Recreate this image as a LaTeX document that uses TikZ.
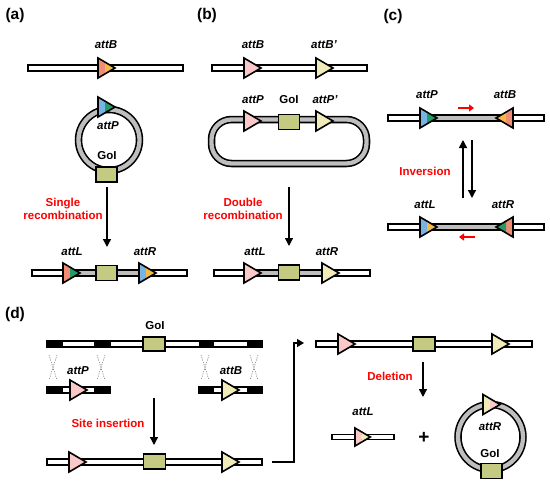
\documentclass[tikz,border=0pt]{standalone}
\usepackage{fontspec}
\setmainfont{Liberation Sans}
\usetikzlibrary{arrows.meta}
\definecolor{salm}{RGB}{240,140,115}
\definecolor{orng}{RGB}{245,185,70}
\definecolor{blu}{RGB}{120,180,225}
\definecolor{grn}{RGB}{35,155,105}
\definecolor{pnk}{RGB}{250,200,200}
\definecolor{lyel}{RGB}{240,235,185}
\definecolor{goi}{RGB}{196,202,130}
\definecolor{ringc}{RGB}{190,190,190}
\definecolor{redtxt}{RGB}{255,0,0}
\tikzset{
 pics/att/.style 2 args={code={
  \fill[#1] (0,-10) -- (0,10) -- (7,5.88) -- (7,-5.88) -- cycle;
  \fill[#2] (7,-5.88) -- (7,5.88) -- (17,0) -- cycle;
  \draw[line width=1.6pt, line join=miter] (0,-10) -- (0,10) -- (17,0) -- cycle;
 }}
}
\begin{document}
\begin{tikzpicture}[x=1pt,y=-1pt,
 lbl/.style={font=\fontsize{11.5}{13}\selectfont\bfseries\itshape, inner sep=0},
 txt/.style={font=\fontsize{11.5}{13}\selectfont\bfseries, inner sep=0},
 rtxt/.style={font=\fontsize{11.5}{13.5}\selectfont\bfseries, text=redtxt, align=center, inner sep=0},
 ptitle/.style={font=\fontsize{15.5}{17}\selectfont\bfseries, inner sep=0},
 outl/.style={line width=1.6pt, draw=black},
 barw/.style={outl, fill=white},
 barg/.style={outl, fill=ringc},
 goibox/.style={outl, fill=goi, minimum width=21pt, minimum height=15pt, inner sep=0},
 proc/.style={line width=1.4pt, -{Triangle[length=8pt,width=8pt]}},
 redarr/.style={line width=2.2pt, redtxt, -{Triangle[length=5pt,width=7pt]}},
 cross/.style={gray, line width=0.6pt, dash pattern=on 1.2pt off 1.2pt},
 ringo/.style={line width=7.5pt, black},
 ringi/.style={line width=4.3pt, ringc}
]
\useasboundingbox (0,0) rectangle (550,483);

% ================= (a)
\node[ptitle] (ta) at (15,15) {(a)};
\draw[barw] (28,65) rectangle (183,71);
\pic at (98,68) {att={salm}{orng}};
\node[lbl] (la1) at (106,45) {attB};
\draw[ringo] (109,140) circle (30.5pt);
\draw[ringi] (109,140) circle (30.5pt);
\pic at (98,107) {att={blu}{grn}};
\node[lbl] (la2) at (108,126) {attP};
\node[txt] (la3) at (107,156) {GoI};
\node[goibox] (ga1) at (106.5,174.5) {};
\coordinate (a1s) at (107,187);
\coordinate (a1e) at (107,247);
\draw[proc] (a1s) -- (a1e);
\node[rtxt] (ra) at (63,209) {Single\\recombination};
\draw[barw] (32,270) rectangle (187,276);
\draw[barg] (70,270) rectangle (145,276);
\pic at (63,273) {att={salm}{grn}};
\pic at (139,273) {att={blu}{orng}};
\node[goibox] (ga2) at (106.5,273) {};
\node[lbl] (la4) at (72,252) {attL};
\node[lbl] (la5) at (145,252) {attR};

% ================= (b)
\node[ptitle] (tb) at (207,15) {(b)};
\draw[barw] (212,65) rectangle (367,71);
\pic at (244,68) {att={pnk}{pnk}};
\pic at (316,68) {att={lyel}{lyel}};
\node[lbl] (lb1) at (253,45) {attB};
\node[lbl] (lb2) at (324,45) {attB'};
\draw[ringo, rounded corners=20pt] (211.5,119.5) rectangle (366.5,163.5);
\draw[ringi, rounded corners=20pt] (211.5,119.5) rectangle (366.5,163.5);
\pic at (244,121) {att={pnk}{pnk}};
\pic at (316,121) {att={lyel}{lyel}};
\node[goibox] (gb1) at (289,122) {};
\node[lbl] (lb3) at (253,100) {attP};
\node[txt] (lb4) at (289,100) {GoI};
\node[lbl] (lb5) at (325,100) {attP'};
\coordinate (b1s) at (289,187);
\coordinate (b1e) at (289,246);
\draw[proc] (b1s) -- (b1e);
\node[rtxt] (rb) at (243,209) {Double\\recombination};
\draw[barw] (214,270) rectangle (370,276);
\draw[barg] (255,270) rectangle (330,276);
\pic at (244,273) {att={pnk}{pnk}};
\pic at (322,273) {att={lyel}{lyel}};
\node[goibox] (gb2) at (289,272.5) {};
\node[lbl] (lb6) at (255,252) {attL};
\node[lbl] (lb7) at (327,252) {attR};

% ================= (c)
\node[ptitle] (tc) at (393,16) {(c)};
\draw[barw] (388,115) rectangle (544,121);
\draw[barg] (430,115) rectangle (505,121);
\pic at (420,118) {att={blu}{grn}};
\pic[xscale=-1] at (513,118) {att={salm}{orng}};
\node[lbl] (lc1) at (427,95) {attP};
\node[lbl] (lc2) at (505,95) {attB};
\coordinate (rc1s) at (458,108);
\coordinate (rc1e) at (474,108);
\draw[redarr] (rc1s) -- (rc1e);
\coordinate (u1) at (463,198);
\coordinate (u2) at (463,140);
\draw[proc] (u1) -- (u2);
\coordinate (d1) at (472,140);
\coordinate (d2) at (472,198);
\draw[proc] (d1) -- (d2);
\node[rtxt] (rc) at (425,171) {Inversion};
\draw[barw] (388,224) rectangle (544,230);
\draw[barg] (430,224) rectangle (505,230);
\pic at (420,227) {att={blu}{orng}};
\pic[xscale=-1] at (513,227) {att={salm}{grn}};
\node[lbl] (lc3) at (425,205) {attL};
\node[lbl] (lc4) at (503,205) {attR};
\coordinate (rc2s) at (475,237);
\coordinate (rc2e) at (459,237);
\draw[redarr] (rc2s) -- (rc2e);

% ================= (d)
\node[ptitle] (td) at (15,314) {(d)};
\draw[barw] (47,341) rectangle (262,347);
\foreach \a/\b in {47/62,95/110,200/213,248/262}
  \draw[outl, fill=black] (\a,341) rectangle (\b,347);
\node[goibox, minimum width=22pt, minimum height=14pt] (gd1) at (154,344) {};
\node[txt] (ld1) at (155,326) {GoI};
\foreach \c in {53,101,205,254}{
  \draw[cross] (\c-4,355) -- (\c+4,380);
  \draw[cross] (\c+4,355) -- (\c-4,380);
}
\draw[barw] (47,387) rectangle (110,393);
\foreach \a/\b in {47/62,95/110}
  \draw[outl, fill=black] (\a,387) rectangle (\b,393);
\pic at (70,390) {att={pnk}{pnk}};
\node[lbl] (ld2) at (78,371) {attP};
\draw[barw] (199,387) rectangle (262,393);
\foreach \a/\b in {199/213,248/262}
  \draw[outl, fill=black] (\a,387) rectangle (\b,393);
\pic at (222,390) {att={lyel}{lyel}};
\node[lbl] (ld3) at (231,371) {attB};
\coordinate (d1s) at (154,398);
\coordinate (d1e) at (154,445);
\draw[proc] (d1s) -- (d1e);
\node[rtxt] (rd1) at (108,423) {Site insertion};
\draw[barw] (47,459) rectangle (262,465);
\pic at (69,462) {att={pnk}{pnk}};
\pic at (222,462) {att={lyel}{lyel}};
\node[goibox, minimum width=22pt] (gd2) at (154.5,461.5) {};
\coordinate (k1) at (272,462);
\coordinate (k2) at (304,343);
\draw[line width=1.4pt, -{Triangle[length=7pt,width=8pt]}] (k1) -- (294,462) -- (294,343) -- (k2);
\draw[barw] (316,341) rectangle (532,347);
\pic at (338,344) {att={pnk}{pnk}};
\pic at (492,344) {att={lyel}{lyel}};
\node[goibox, minimum width=22pt, minimum height=14pt] (gd3) at (424,344) {};
\coordinate (d2s) at (423,362);
\coordinate (d2e) at (423,397);
\draw[proc] (d2s) -- (d2e);
\node[rtxt] (rd2) at (390,376) {Deletion};
\draw[barw] (332,434.5) rectangle (394,439.5);
\pic[scale=0.9] at (355,437) {att={pnk}{lyel}};
\node[lbl] (ld4) at (363,412) {attL};
\node[font=\fontsize{19}{21}\selectfont\bfseries, inner sep=0] (plus) at (424,438) {+};
\draw[ringo] (490.5,437) circle (32.5pt);
\draw[ringi] (490.5,437) circle (32.5pt);
\pic at (483,404.5) {att={lyel}{pnk}};
\node[lbl] (ld5) at (490,427) {attR};
\node[txt] (ld6) at (490,454) {GoI};
\node[goibox] (gd4) at (491.5,471) {};
\end{tikzpicture}
\end{document}
